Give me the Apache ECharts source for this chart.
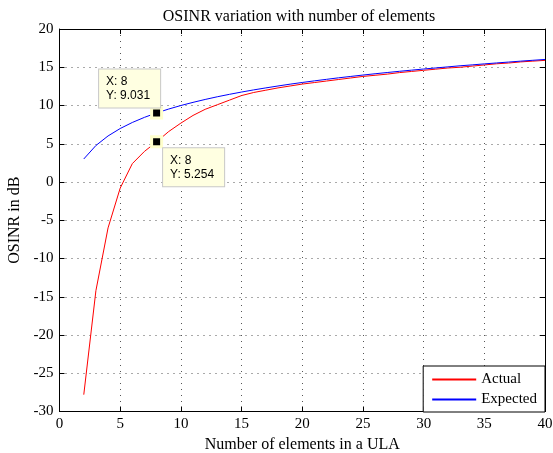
<!DOCTYPE html>
<html>
<head>
<meta charset="utf-8">
<script src="https://cdn.jsdelivr.net/npm/echarts@6/dist/echarts.min.js"></script>
<style>
  html, body { margin: 0; padding: 0; background: #fff; }
  #chart { width: 553px; height: 453px; }
</style>
</head>
<body>
<div id="chart"></div>
<script>
// number of elements in the ULA
var elements = [2, 3, 4, 5, 6, 7, 8, 9, 10, 11, 12, 13, 14, 15, 16, 17, 18, 19, 20, 21,
  22, 23, 24, 25, 26, 27, 28, 29, 30, 31, 32, 33, 34, 35, 36, 37, 38, 39, 40];
// OSINR (dB)
var actual = [-27.8, -14.2, -6.0, -0.8, 2.4, 4.0, 5.254, 6.6, 7.7, 8.7, 9.5, 10.1, 10.7, 11.3,
  11.7, 12.0, 12.3, 12.55, 12.8, 13.0, 13.2, 13.4, 13.6, 13.8, 13.95, 14.1, 14.3, 14.45,
  14.6, 14.75, 14.9, 15.0, 15.15, 15.3, 15.45, 15.55, 15.7, 15.8, 15.9];
var expected = [3.01, 4.77, 6.02, 6.99, 7.78, 8.45, 9.031, 9.54, 10.00, 10.41, 10.79, 11.14,
  11.46, 11.76, 12.04, 12.30, 12.55, 12.79, 13.01, 13.22, 13.42, 13.62, 13.80, 13.98, 14.15,
  14.31, 14.47, 14.62, 14.77, 14.91, 15.05, 15.19, 15.31, 15.44, 15.56, 15.68, 15.80, 15.91, 16.02];
// data tips shown on the figure
var tipActual = [8, 5.254];
var tipExpected = [8, 9.031];

var serif = '"Liberation Serif", "DejaVu Serif", serif';
var sans = '"Liberation Sans", Arial, sans-serif';

function pairs(xs, ys) {
  var out = [];
  for (var i = 0; i < xs.length; i++) out.push([xs[i], ys[i]]);
  return out;
}

function dataTip(pt, pos) {
  return {
    symbol: 'rect',
    symbolSize: 10,
    data: [{ coord: pt, value: pt[1] }],
    itemStyle: { color: '#000', borderColor: '#ffffcc', borderWidth: 3 },
    label: {
      show: true,
      position: pos,
      formatter: 'X: ' + pt[0] + '\nY: ' + pt[1].toFixed(3),
      fontFamily: sans,
      fontSize: 12,
      lineHeight: 14,
      color: '#000',
      backgroundColor: '#ffffe1',
      borderColor: '#c8c8c8',
      borderWidth: 1,
      padding: [5, 10, 5, 7]
    }
  };
}

var chart = echarts.init(document.getElementById('chart'));

var gridStyle = { show: true, lineStyle: { color: '#555', type: [1, 5], width: 1 } };
var lineAx = { show: true, onZero: false, lineStyle: { color: '#000', width: 1 } };
var tickIn = { show: true, inside: true, length: 5, lineStyle: { color: '#000' } };
var fs = 15;
var fsName = 16;

var option = {
  animation: false,
  backgroundColor: '#fff',
  title: {
    text: 'OSINR variation with number of elements',
    left: 294, top: 4, textAlign: 'center',
    textStyle: { fontFamily: serif, fontSize: fsName, fontWeight: 'normal', color: '#000' }
  },
  grid: { left: 59.5, right: 8, top: 29, bottom: 41.5, outerBoundsMode: 'none', containLabel: false },
  legend: {
    orient: 'vertical',
    right: 8, bottom: 41,
    width: 122,
    data: ['Actual', 'Expected'],
    itemWidth: 44, itemHeight: 2, itemGap: 5,
    padding: [6, 8, 5, 9],
    backgroundColor: '#fff',
    borderColor: '#000', borderWidth: 1, borderRadius: 0,
    icon: 'rect',
    textStyle: { fontFamily: serif, fontSize: fs, color: '#000' }
  },
  xAxis: [{
    type: 'value', min: 0, max: 40, interval: 5,
    name: 'Number of elements in a ULA', nameLocation: 'middle', nameGap: 20,
    nameTextStyle: { fontFamily: serif, fontSize: fsName, color: '#000' },
    axisLine: lineAx, axisTick: tickIn, splitLine: gridStyle,
    axisLabel: { fontFamily: serif, fontSize: fs, color: '#000', margin: 5 }
  }, {
    type: 'value', min: 0, max: 40, interval: 5, position: 'top',
    axisLine: lineAx, axisTick: tickIn, splitLine: { show: false }, axisLabel: { show: false }
  }],
  yAxis: [{
    type: 'value', min: -30, max: 20, interval: 5,
    name: 'OSINR in dB', nameLocation: 'middle', nameGap: 32,
    nameTextStyle: { fontFamily: serif, fontSize: fsName, color: '#000' },
    axisLine: lineAx, axisTick: tickIn, splitLine: gridStyle,
    axisLabel: { fontFamily: serif, fontSize: fs, color: '#000', margin: 6 }
  }, {
    type: 'value', min: -30, max: 20, interval: 5, position: 'right',
    axisLine: lineAx, axisTick: tickIn, splitLine: { show: false }, axisLabel: { show: false }
  }],
  series: [{
    name: 'Actual', type: 'line',
    data: pairs(elements, actual),
    showSymbol: false, symbol: 'none',
    color: '#ff0000',
    lineStyle: { color: '#ff0000', width: 1 },
    markPoint: dataTip(tipActual, [13, 13])
  }, {
    name: 'Expected', type: 'line',
    data: pairs(elements, expected),
    showSymbol: false, symbol: 'none',
    color: '#0000ff',
    lineStyle: { color: '#0000ff', width: 1 },
    markPoint: dataTip(tipExpected, [-51, -37])
  }]
};

chart.setOption(option);
</script>
</body>
</html>
